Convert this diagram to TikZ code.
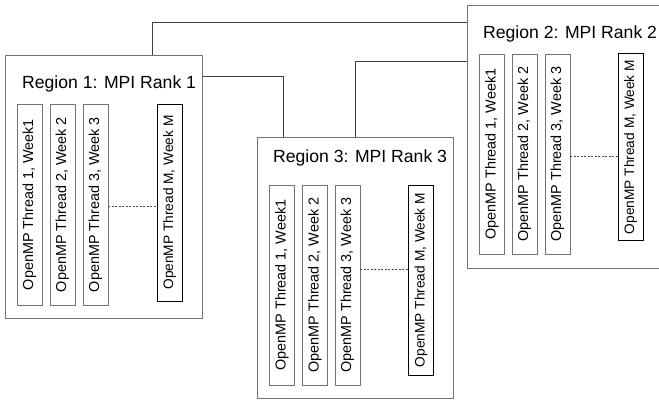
\documentclass[tikz,border=0pt]{standalone}
\usepackage{fontspec}
\setmainfont{Liberation Sans}
\begin{document}
\begin{tikzpicture}[x=1pt,y=-1pt,
  region/.style={draw=black!55, line width=0.8pt, fill=white, rectangle, inner sep=0pt},
  title/.style={anchor=west, inner sep=0pt, font=\fontsize{17.6}{20}\selectfont},
  thread/.style={draw=black!55, line width=0.8pt, rectangle, rotate=90, inner sep=0pt, minimum height=25pt, font=\fontsize{14.4}{16}\selectfont},
  threadM/.style={thread, draw=black, line width=0.7pt, font=\fontsize{13.7}{16}\selectfont},
  link/.style={draw=black!75, line width=0.8pt},
  dots/.style={draw=black!70, dashed, dash pattern=on 2pt off 1.5pt, line width=0.6pt}]
\useasboundingbox (0,0) rectangle (659,400);
% connectors (drawn first, under boxes)
\coordinate (c1a) at (152,55);
\coordinate (c1b) at (152,22);
\coordinate (c1c) at (467,22);
\coordinate (c2a) at (202,76);
\coordinate (c2b) at (283,76);
\coordinate (c2c) at (283,137);
\coordinate (c3a) at (355,137);
\coordinate (c3b) at (355,61);
\coordinate (c3c) at (467,61);
\draw[link] (c1a) -- (c1b) -- (c1c);
\draw[link] (c2a) -- (c2b) -- (c2c);
\draw[link] (c3a) -- (c3b) -- (c3c);
% Region 1
\node[region, minimum width=197pt, minimum height=263pt] (r1) at (103.5,186.5) {};
\node[title] (t1) at (22,84) {Region 1: MPI Rank 1};
\node[thread, minimum width=201pt] (r1a) at (29.5,204.5) {OpenMP Thread 1, Week1};
\node[thread, minimum width=201pt] (r1b) at (62.5,204.5) {OpenMP Thread 2, Week 2};
\node[thread, minimum width=201pt] (r1c) at (95.5,204.5) {OpenMP Thread 3, Week 3};
\node[threadM, minimum width=197pt] (r1m) at (169.5,202.5) {OpenMP Thread M, Week M};
\coordinate (d1) at (169.5,206);
\draw[dots] (r1c.south |- d1) -- (r1m.north |- d1);
% Region 2
\node[region, minimum width=197pt, minimum height=263pt] (r2) at (565.5,136.5) {};
\node[title] (t2) at (483,34) {Region 2: MPI Rank 2};
\node[thread, minimum width=200pt] (r2a) at (492,154) {OpenMP Thread 1, Week1};
\node[thread, minimum width=200pt] (r2b) at (524.5,154) {OpenMP Thread 2, Week 2};
\node[thread, minimum width=200pt] (r2c) at (557.5,154) {OpenMP Thread 3, Week 3};
\node[threadM, minimum width=187pt] (r2m) at (630.5,147) {OpenMP Thread M, Week M};
\coordinate (d2) at (630.5,156);
\draw[dots] (r2c.south |- d2) -- (r2m.north |- d2);
% Region 3
\node[region, minimum width=196pt, minimum height=261pt] (r3) at (355,267.5) {};
\node[title] (t3) at (273,158) {Region 3: MPI Rank 3};
\node[thread, minimum width=200pt] (r3a) at (282,285) {OpenMP Thread 1, Week1};
\node[thread, minimum width=200pt] (r3b) at (315,285) {OpenMP Thread 2, Week 2};
\node[thread, minimum width=200pt] (r3c) at (347.5,285) {OpenMP Thread 3, Week 3};
\node[threadM, minimum width=190pt] (r3m) at (421,280) {OpenMP Thread M, Week M};
\coordinate (d3) at (421,269);
\draw[dots] (r3c.south |- d3) -- (r3m.north |- d3);
\end{tikzpicture}
\end{document}
